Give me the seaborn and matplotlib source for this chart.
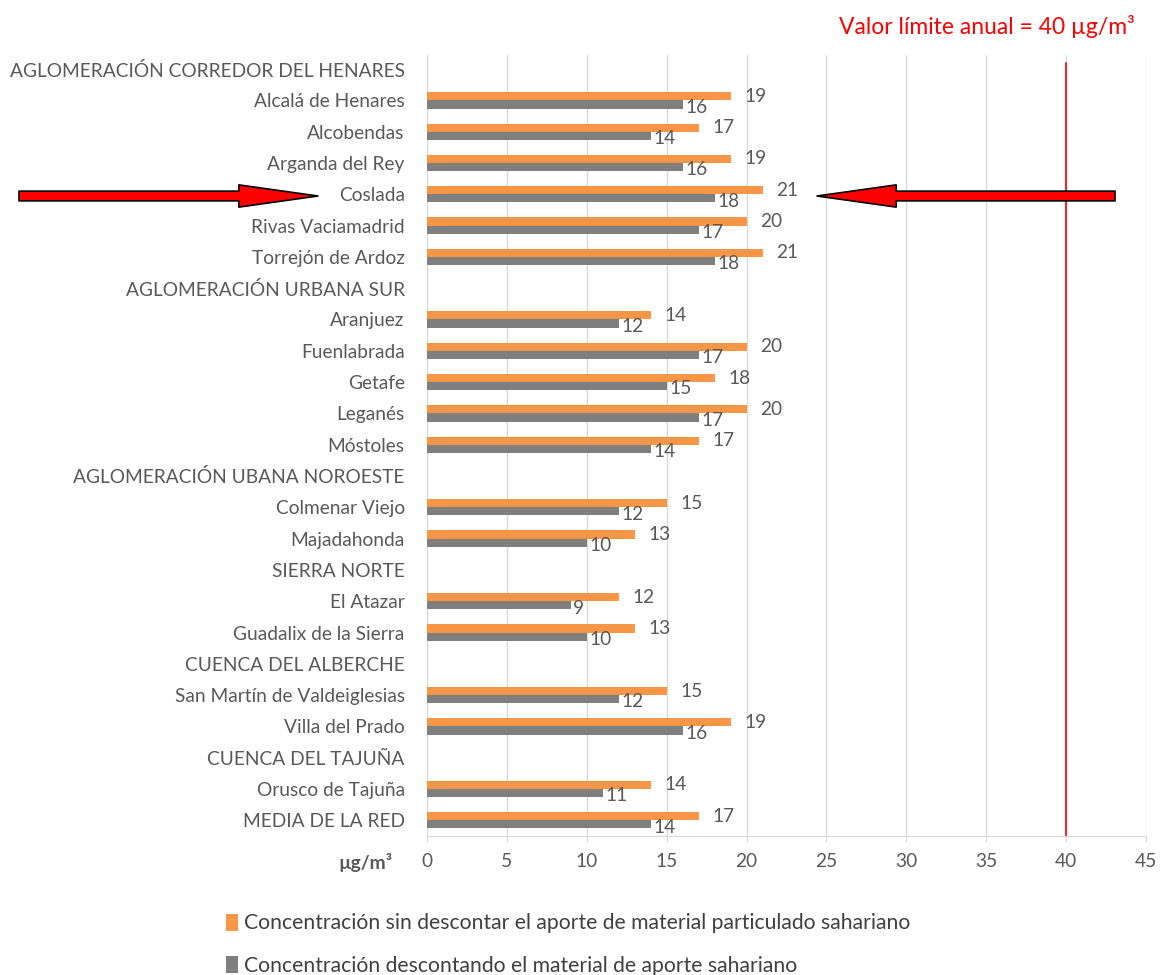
import numpy as np
import pandas as pd
import matplotlib
matplotlib.use("Agg")
import matplotlib.pyplot as plt
import seaborn as sns

# data (headers have no value)
categorias = [
    "AGLOMERACIÓN CORREDOR DEL HENARES", "Alcalá de Henares", "Alcobendas",
    "Arganda del Rey", "Coslada", "Rivas Vaciamadrid", "Torrejón de Ardoz",
    "AGLOMERACIÓN URBANA SUR", "Aranjuez", "Fuenlabrada", "Getafe", "Leganés",
    "Móstoles", "AGLOMERACIÓN UBANA NOROESTE", "Colmenar Viejo", "Majadahonda",
    "SIERRA NORTE", "El Atazar", "Guadalix de la Sierra", "CUENCA DEL ALBERCHE",
    "San Martín de Valdeiglesias", "Villa del Prado", "CUENCA DEL TAJUÑA",
    "Orusco de Tajuña", "MEDIA DE LA RED",
]
sin_descontar = [np.nan, 19, 17, 19, 21, 20, 21, np.nan, 14, 20, 18, 20, 17,
                 np.nan, 15, 13, np.nan, 12, 13, np.nan, 15, 19, np.nan, 14, 17]
descontando = [np.nan, 16, 14, 16, 18, 17, 18, np.nan, 12, 17, 15, 17, 14,
               np.nan, 12, 10, np.nan, 9, 10, np.nan, 12, 16, np.nan, 11, 14]
serie_1 = "Concentración sin descontar el aporte de material particulado sahariano"
serie_2 = "Concentración descontando el material de aporte sahariano"
limite = 40
x_ticks = [0, 5, 10, 15, 20, 25, 30, 35, 40, 45]

df = pd.DataFrame({
    "estacion": categorias * 2,
    "valor": sin_descontar + descontando,
    "serie": [serie_1] * len(categorias) + [serie_2] * len(categorias),
})

GRIS = "#595959"
FS = 13.8
sns.set_style("white")
plt.rcParams["font.family"] = ["Lato", "DejaVu Sans"]
plt.rcParams["font.size"] = FS

fig = plt.figure(figsize=(11.6, 9.75), dpi=100)
ax = fig.add_axes([0.368, 0.1426, 0.62, 0.801])

sns.barplot(data=df, y="estacion", x="valor", hue="serie", order=categorias,
            hue_order=[serie_1, serie_2], palette=["#f79646", "#7f7f7f"],
            orient="h", width=0.52, dodge=True, saturation=1, linewidth=0,
            ax=ax, legend=True)

# value labels
for cont, pad, dy in zip(ax.containers, [10, 2], [0, -2]):
    for bar in cont:
        w = bar.get_width()
        if np.isnan(w):
            continue
        ax.annotate(f"{w:.0f}", (w, bar.get_y() + bar.get_height() / 2),
                    xytext=(pad, dy), textcoords="offset points",
                    ha="left", va="center", color=GRIS, fontsize=FS)

ax.set_xlim(0, 45)
ax.set_ylim(24.5, -0.45)
ax.set_xticks(x_ticks)
ax.set_xlabel("")
ax.set_ylabel("")
ax.grid(axis="x", color="#d9d9d9", linewidth=1)
ax.set_axisbelow(True)
for s in ["top", "right", "left"]:
    ax.spines[s].set_visible(False)
ax.spines["bottom"].set_color("#d9d9d9")
ax.tick_params(axis="x", colors=GRIS, length=4, pad=8, bottom=True,
               color="#d9d9d9", labelsize=FS)
ax.tick_params(axis="y", colors=GRIS, length=0, pad=16, labelsize=FS)

# limit line
ax.axvline(limite, ymax=0.99, color="red", linewidth=1.2)
fig.text(1135 / 1160, 1 - 27 / 975, "Valor límite anual = 40 µg/m³",
         color="red", ha="right", va="center", fontsize=16.5)
fig.text(392 / 1160, 1 - 862 / 975, "µg/m³", color=GRIS, ha="right",
         va="center", fontsize=FS, fontweight="bold")

# arrows pointing at Coslada
arrow = dict(arrowstyle="simple,head_length=5.7,head_width=1.6,tail_width=0.7",
             fc="red", ec="black", lw=1.2, mutation_scale=10,
             shrinkA=0, shrinkB=0)
ax.annotate("", xy=(318, 779), xycoords="figure pixels",
            xytext=(19, 779), textcoords="figure pixels", arrowprops=arrow)
ax.annotate("", xy=(817, 779), xycoords="figure pixels",
            xytext=(1115, 779), textcoords="figure pixels", arrowprops=arrow)

# legend below
handles, labels = ax.get_legend_handles_labels()
ax.get_legend().remove()
fig.legend(handles, labels, loc="upper left",
           bbox_to_anchor=(218 / 1160, 1 - 905 / 975), frameon=False,
           handlelength=0.55, handleheight=0.85, handletextpad=0.3,
           labelspacing=1.05, labelcolor="#404040", fontsize=15.2,
           borderaxespad=0)

fig.savefig("out.png", dpi=100)
